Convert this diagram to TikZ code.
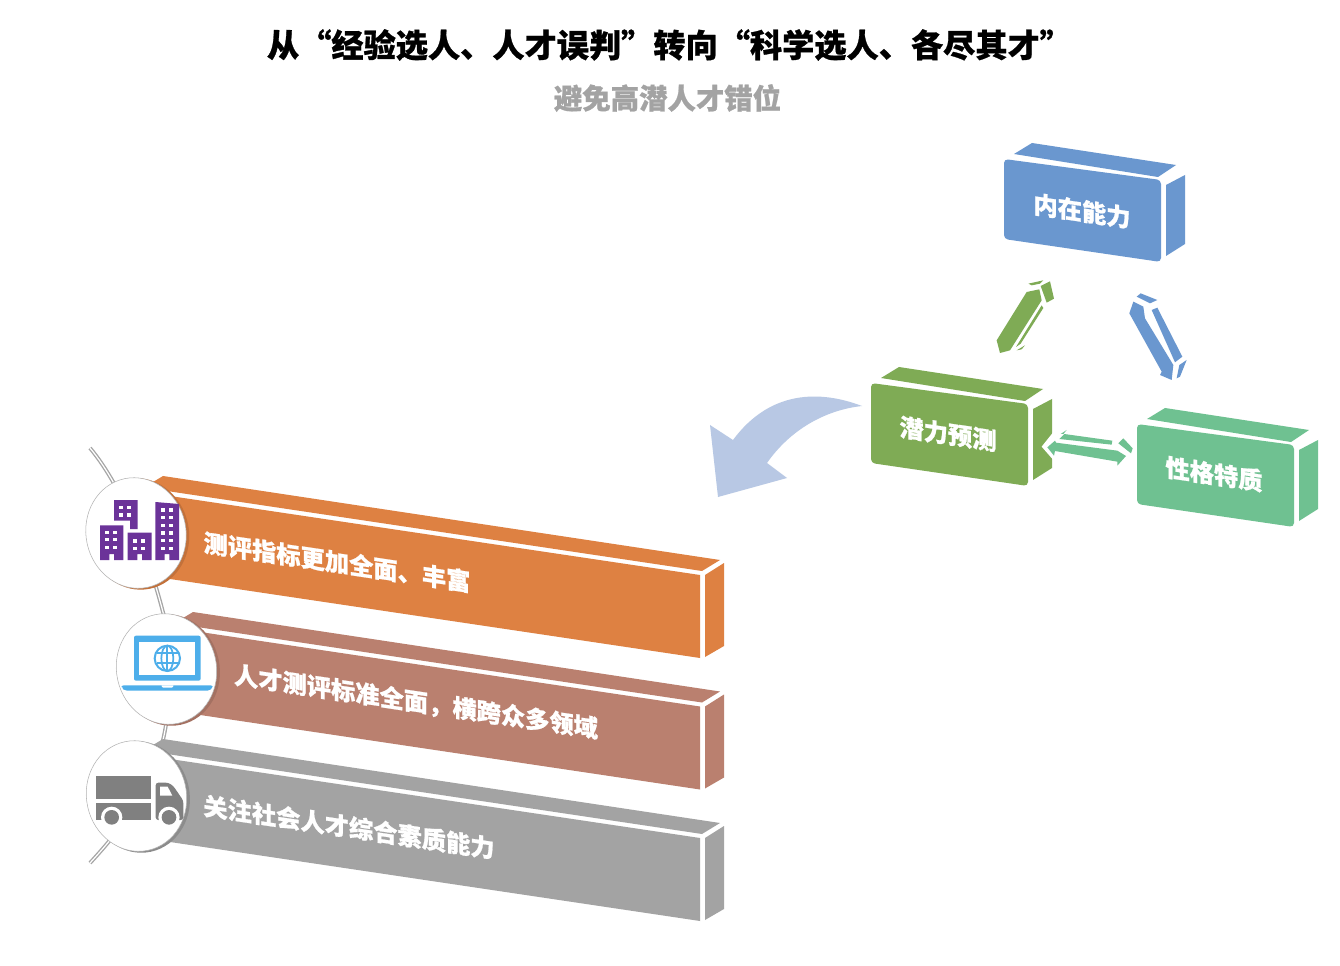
\documentclass[tikz,border=0pt]{standalone}
\usepackage{fontspec}
\setmainfont[BoldFeatures={FakeBold=0.8}]{Noto Sans CJK SC}
\usetikzlibrary{calc}
\definecolor{cblue}{HTML}{6A97CF}
\definecolor{cgreen}{HTML}{7FAB55}
\definecolor{cteal}{HTML}{6FC191}
\definecolor{corange}{HTML}{DE8142}
\definecolor{cbrown}{HTML}{BA806F}
\definecolor{cgray}{HTML}{A3A3A3}
\definecolor{cpurple}{HTML}{6B3399}
\definecolor{clap}{HTML}{4DAEEA}
\definecolor{ctruck}{HTML}{808080}
\definecolor{carrow}{HTML}{B8C8E4}
\tikzset{
  x=0.75pt,y=-0.75pt,
  facetext/.style={text=white,font=\bfseries\fontsize{18.2pt}{20pt}\selectfont,inner sep=0,yslant=-0.149},
  disc/.style={fill=white,draw=black!30,line width=0.4pt},
  zoomB/.style={shift={(70,440)},x=0.25pt,y=-0.25pt},
  zoomC/.style={shift={(1030,420)},x=0.25pt,y=-0.25pt},
  zoomD/.style={shift={(110,620)},x=0.25pt,y=-0.25pt},
  zoomE/.style={shift={(85,760)},x=0.25pt,y=-0.25pt},
  zoomF/.style={shift={(1120,285)},x=0.25pt,y=-0.25pt},
  zoomG/.style={shift={(990,272)},x=0.25pt,y=-0.25pt},
}
% #1 colour, #2 vertical offset, #3 left offset
\newcommand\longbar[3]{%
  \fill[#1] ({163+#3},{476+#3*0.15+#2}) -- (720,{560+#2}) -- (702,{571+#2}) -- ({167+#3},{491+#3*0.15+#2}) -- ({153+#3},{482+#3*0.15+#2}) -- cycle;
  \fill[#1] ({170+#3},{496+#3*0.149+#2}) -- (700,{575+#2}) -- (700,{658+#2}) -- ({170+#3},{579+#3*0.149+#2}) -- cycle;
  \fill[#1] (705,{575+#2}) -- (724,{563+#2}) -- (724,{646+#2}) -- (705,{657+#2}) -- cycle;
}
% #1 colour; #2 x,y of front top-left; top face and side follow a common offset
\newcommand\cube[2]{%
  \begin{scope}[shift={#2}]
    \fill[#1] (10,-5) -- (28,-16) -- (172,6) -- (154,18) -- cycle;
    \fill[#1,rounded corners=3pt] (0,0) -- (157,21) -- (157,103) -- (0,80) -- cycle;
    \fill[#1] (162,26) -- (181,16) -- (181,85) -- (162,97) -- cycle;
  \end{scope}
}
\begin{document}
\begin{tikzpicture}
\useasboundingbox (0,0) rectangle (1340,966);
\fill[white] (0,0) rectangle (1340,966);

% title
\node[font=\bfseries\fontsize{24.15pt}{28pt}\selectfont,text=black,inner sep=0] (title) at (669.5,45) {从“经验选人、人才误判”转向“科学选人、各尽其才”};
\node[font=\bfseries\fontsize{21.3pt}{26pt}\selectfont,text=cgray,inner sep=0] (subtitle) at (667.5,98) {避免高潜人才错位};

% spine curve
\draw[black!35,line width=2.9pt,line cap=butt] (90,448) .. controls (125,490) and (150,560) .. (165,620) .. controls (172,670) and (170,710) .. (163,740) .. controls (150,790) and (125,825) .. (90,863);
\draw[white,line width=0.9pt] (90,448) .. controls (125,490) and (150,560) .. (165,620) .. controls (172,670) and (170,710) .. (163,740) .. controls (150,790) and (125,825) .. (90,863);

% long bars
\longbar{corange}{0}{0}
\longbar{cbrown}{131.5}{30}
\longbar{cgray}{263}{0}

% discs
\fill[corange!88!black,rotate around={12:(138,534)}] (138.5,534) ellipse (50.5 and 56);
\draw[disc,rotate around={12:(136,533)}] (136,533) ellipse (50 and 55.5);
\fill[cbrown!88!black,rotate around={12:(169,670)}] (169.2,670) ellipse (50.5 and 56);
\draw[disc,rotate around={12:(166.5,669)}] (166.5,669) ellipse (50 and 55.5);
\fill[black!45,rotate around={12:(139,797)}] (139.2,797) ellipse (50.5 and 56);
\draw[disc,rotate around={12:(136.5,796)}] (136.5,796) ellipse (50 and 55.5);

% buildings icon
\begin{scope}[zoomB]
  \fill[cpurple] (132,180) -- (203,180) -- (203,267) -- (180,267) -- (180,242) -- (132,242) -- cycle;
  \fill[cpurple] (90,256) -- (160,256) -- (160,360) -- (132,360) -- (132,342) -- (118,342) -- (118,360) -- (90,360) -- cycle;
  \fill[cpurple] (173,278) -- (245,278) -- (245,360) -- (216,360) -- (216,342) -- (202,342) -- (202,360) -- (173,360) -- cycle;
  \fill[cpurple] (256,186) -- (327,192) -- (327,360) -- (298,360) -- (298,342) -- (284,342) -- (284,360) -- (256,360) -- cycle;
  \foreach \x/\y in {148/197,172/197,148/220,172/220,
    106/272,130/272,106/294,130/294,106/318,130/318,
    190/298,214/298,190/320,214/320,
    274/205,298/205,274/228,298/228,274/251,298/251,274/274,298/274,274/297,298/297,274/320,298/320}
    \fill[white] (\x,\y) rectangle ++(10,10);
\end{scope}

% laptop icon
\begin{scope}[zoomD]
  \fill[clap,rounded corners=1.5pt] (72,47) rectangle (272,182);
  \fill[white] (88,65) rectangle (256,165);
  \draw[clap,line width=1.5pt] (172,115) circle (38);
  \draw[clap,line width=1.3pt] (172,115) ellipse (18 and 38);
  \draw[clap,line width=1.3pt] (172,77) -- (172,153);
  \draw[clap,line width=1.3pt] (141,100) -- (203,100) (141,130) -- (203,130);
  \fill[clap,rounded corners=1.5pt] (35,196) -- (308,196) -- (308,204) -- (298,212) -- (45,212) -- (35,204) -- cycle;
  \fill[white] (155,196) -- (190,196) -- (190,199) -- (186,203) -- (159,203) -- (155,199) -- cycle;
\end{scope}

% truck icon
\begin{scope}[zoomE]
  \fill[ctruck] (33,47) rectangle (198,118);
  \fill[ctruck] (33,130) rectangle (198,180);
  \fill[ctruck,rounded corners=2pt] (212,68) -- (250,68) -- (265,78) -- (295,122) -- (295,180) -- (212,180) -- cycle;
  \fill[white] (225,80) -- (248,80) -- (262,107) -- (225,107) -- cycle;
  \fill[white] (80,172) circle (32);
  \fill[white] (252,172) circle (32);
  \fill[ctruck] (80,172) circle (22);
  \fill[ctruck] (252,172) circle (22);
\end{scope}

% bar labels
\node[facetext] (t1) at (337,562) {测评指标更加全面、丰富};
\node[facetext] (t2) at (416,702) {人才测评标准全面，横跨众多领域};
\node[facetext] (t3) at (349,827) {关注社会人才综合素质能力};

% sweeping arrow
\fill[carrow] (862,406) .. controls (820,390) and (770,390) .. (733,440) -- (710,425) -- (718,497) -- (787,478) -- (767,463) .. controls (790,430) and (825,410) .. (862,406) -- cycle;

% cubes
\cube{cblue}{(1004,159)}
\cube{cgreen}{(871,383)}
\cube{cteal}{(1137,424)}

% notch in green cube made by the teal arrow
\begin{scope}[zoomC]
  \fill[white] (70,36) -- (35,80) -- (70,120) -- cycle;
\end{scope}

% double arrows
\begin{scope}[zoomG]
  \fill[cgreen] (20,205) -- (110,60) -- (148,52) -- (155,85) -- (60,235) -- (30,243) -- cycle;
  \fill[cgreen] (152,42) -- (180,28) -- (192,80) -- (170,92) -- cycle;
  \fill[cgreen] (115,35) -- (160,25) -- (150,35) -- (125,40) -- cycle;
  \fill[cgreen] (155,100) -- (160,108) -- (92,215) -- (78,225) -- cycle;
  \fill[cgreen] (80,235) -- (105,220) -- (95,232) -- cycle;
\end{scope}
\begin{scope}[zoomF]
  \fill[cblue] (50,35) -- (62,25) -- (112,45) -- (90,55) -- cycle;
  \fill[cblue] (28,85) -- (40,50) -- (70,65) -- (75,100) -- (160,240) -- (155,285) -- (120,270) -- (125,260) -- cycle;
  \fill[cblue] (95,75) -- (112,68) -- (187,215) -- (165,232) -- cycle;
  \fill[cblue] (170,280) -- (180,275) -- (200,225) -- (178,240) -- cycle;
\end{scope}
\begin{scope}[zoomC]
  \fill[cteal] (52,82) -- (75,62) -- (78,68) -- (262,92) -- (288,108) -- (262,137) -- (262,125) -- (75,93) -- (72,107) -- cycle;
  \fill[cteal] (103,42) -- (247,62) -- (245,74) -- (88,57) -- cycle;
  \fill[cteal] (92,42) -- (110,30) -- (100,42) -- cycle;
  \fill[cteal] (265,70) -- (280,55) -- (308,85) -- (303,100) -- cycle;
\end{scope}

% cube labels
\node[facetext] (n1) at (1082,211) {内在能力};
\node[facetext] (n2) at (948,434) {潜力预测};
\node[facetext] (n3) at (1214,474) {性格特质};
\end{tikzpicture}
\end{document}
